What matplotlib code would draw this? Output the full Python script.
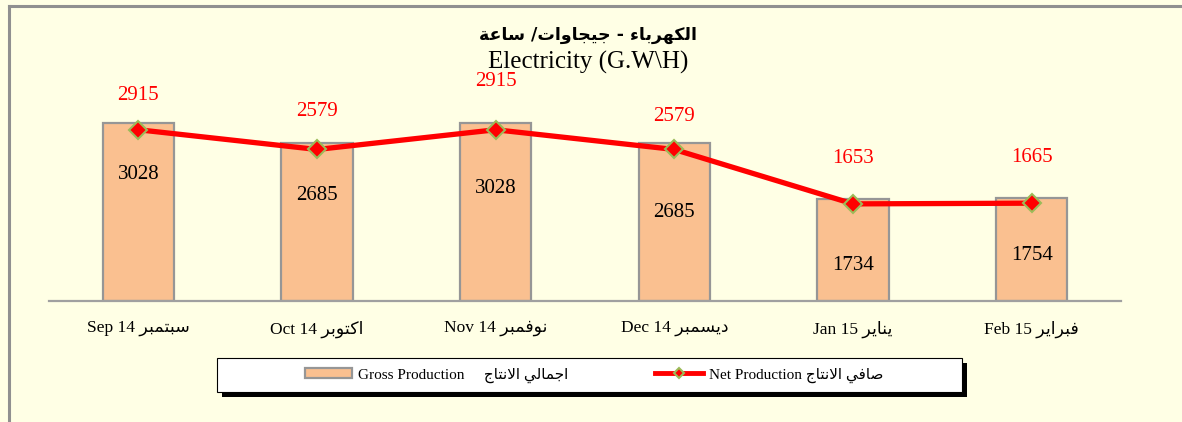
import matplotlib
matplotlib.use('Agg')
import matplotlib.pyplot as plt
from matplotlib.lines import Line2D
from matplotlib.patches import Rectangle
import numpy as np

plt.rcParams['font.family'] = ['Liberation Serif', 'DejaVu Sans']

months_en = ['Sep 14', 'Oct 14', 'Nov 14', 'Dec 14', 'Jan 15', 'Feb 15']
months_ar = ['سبتمبر', 'اكتوبر', 'نوفمبر', 'ديسمبر', 'يناير', 'فبراير']
gross = [3028, 2685, 3028, 2685, 1734, 1754]
net = [2915, 2579, 2915, 2579, 1653, 1665]

title_ar = 'الكهرباء - جيجاوات/ ساعة'
title_en = 'Electricity (G.W\\H)'
gross_lbl = ('Gross Production', 'اجمالي الانتاج')
net_lbl = ('Net Production', 'صافي الانتاج')

# where the value labels sit (layout only)
gross_lbl_frac = [0.71, 0.67, 0.63, 0.56, 0.35, 0.44]
net_lbl_off = [25, 27, 35, 24, 33, 33]


# --- tiny arabic shaper (presentation forms, visual order) ---
DUAL = {
    'ب': (0xFE8F, 0xFE90, 0xFE91, 0xFE92), 'ت': (0xFE95, 0xFE96, 0xFE97, 0xFE98),
    'ج': (0xFE9D, 0xFE9E, 0xFE9F, 0xFEA0), 'س': (0xFEB1, 0xFEB2, 0xFEB3, 0xFEB4),
    'ص': (0xFEB9, 0xFEBA, 0xFEBB, 0xFEBC), 'ع': (0xFEC9, 0xFECA, 0xFECB, 0xFECC),
    'ف': (0xFED1, 0xFED2, 0xFED3, 0xFED4), 'ك': (0xFED9, 0xFEDA, 0xFEDB, 0xFEDC),
    'ل': (0xFEDD, 0xFEDE, 0xFEDF, 0xFEE0), 'م': (0xFEE1, 0xFEE2, 0xFEE3, 0xFEE4),
    'ن': (0xFEE5, 0xFEE6, 0xFEE7, 0xFEE8), 'ه': (0xFEE9, 0xFEEA, 0xFEEB, 0xFEEC),
    'ي': (0xFEF1, 0xFEF2, 0xFEF3, 0xFEF4),
}
RIGHT = {'ا': (0xFE8D, 0xFE8E), 'د': (0xFEA9, 0xFEAA), 'ر': (0xFEAD, 0xFEAE),
         'و': (0xFEED, 0xFEEE), 'ة': (0xFE93, 0xFE94)}


def ar(s):
    out = []
    i = 0
    n = len(s)
    while i < n:
        c = s[i]
        prev = s[i - 1] if i > 0 else ''
        join_prev = prev in DUAL
        if c == 'ل' and i + 1 < n and s[i + 1] == 'ا':
            out.append(chr(0xFEFC if join_prev else 0xFEFB))
            i += 2
            continue
        if c in DUAL:
            nxt = s[i + 1] if i + 1 < n else ''
            join_next = nxt in DUAL or nxt in RIGHT
            f = DUAL[c]
            if join_prev and join_next:
                out.append(chr(f[3]))
            elif join_prev:
                out.append(chr(f[1]))
            elif join_next:
                out.append(chr(f[2]))
            else:
                out.append(chr(f[0]))
        elif c in RIGHT:
            out.append(chr(RIGHT[c][1] if join_prev else RIGHT[c][0]))
        elif c == 'ء':
            out.append(chr(0xFE80))
        else:
            out.append(c)
        i += 1
    return ''.join(out[::-1])


W, H = 1182, 422
fig = plt.figure(figsize=(W / 100, H / 100), dpi=100)
fig.patch.set_facecolor('#FFFFE5')

ax = fig.add_axes([49 / W, 1 - 301 / H, 1072 / W, 235 / H])
ax.set_facecolor('none')
x = np.arange(len(gross))

bars = ax.bar(x, gross, width=0.4, color='#FAC090', edgecolor='#969696', linewidth=1.6,
              zorder=2)
line, = ax.plot(x, net, color='#FF0000', linewidth=3.8, marker='D', markersize=9,
                markerfacecolor='#FF0000', markeredgecolor='#9BBB59', markeredgewidth=1.5,
                zorder=3)

for i in range(len(x)):
    ax.text(x[i], gross[i] * gross_lbl_frac[i], str(gross[i]), ha='center', va='center',
            fontsize=15, color='black', zorder=4)
    ax.annotate(str(net[i]), (x[i], net[i]), xytext=(0, net_lbl_off[i]),
                textcoords='offset points', ha='center', va='center',
                fontsize=15, color='#FF0000', zorder=4)

ax.set_xlim(-0.5, len(x) - 0.5)
ax.set_ylim(0, 4000)
for s in ['top', 'right', 'left']:
    ax.spines[s].set_visible(False)
ax.spines['bottom'].set_color('#A0A0A0')
ax.spines['bottom'].set_linewidth(1.6)
ax.set_yticks([])
ax.set_xticks(x)
ax.set_xticklabels([e + ' ' + ar(a) for e, a in zip(months_en, months_ar)], fontsize=12.5)
ax.tick_params(axis='x', length=0, pad=14)

fig.text(588 / W, 1 - 35 / H, ar(title_ar), ha='center', va='center',
         fontsize=12.5, fontweight='bold', family='DejaVu Sans')
fig.text(588 / W, 1 - 62 / H, title_en, ha='center', va='center', fontsize=18)

# legend box with black shadow
lx, ly, lw, lh = 217, 358, 745, 34
fig.add_artist(Rectangle(((lx + 5) / W, 1 - (ly + lh + 5) / H), lw / W, lh / H,
                         transform=fig.transFigure, facecolor='black', edgecolor='none'))
fig.add_artist(Rectangle((lx / W, 1 - (ly + lh) / H), lw / W, lh / H,
                         transform=fig.transFigure, facecolor='white', edgecolor='black',
                         linewidth=0.8))

leg = fig.legend([bars, line],
                 [gross_lbl[0] + '     ' + ar(gross_lbl[1]),
                  net_lbl[0] + ' ' + ar(net_lbl[1])],
                 loc='center', ncol=2, bbox_to_anchor=(594 / W, 1 - (ly + lh / 2) / H),
                 frameon=False, fontsize=11, handlelength=3.1, columnspacing=5.7,
                 handletextpad=0.4)
for h in leg.legend_handles:
    if isinstance(h, Line2D):
        h.set_markersize(5)
        h.set_linewidth(3.5)

# outer frame (left / top)
fig.add_artist(Line2D([9 / W, 9 / W], [0, 1 - 6 / H], color='#909090', linewidth=2.2))
fig.add_artist(Line2D([9 / W, 1], [1 - 6 / H, 1 - 6 / H], color='#909090', linewidth=2.2))

fig.savefig('out.png', dpi=100, facecolor=fig.get_facecolor())
